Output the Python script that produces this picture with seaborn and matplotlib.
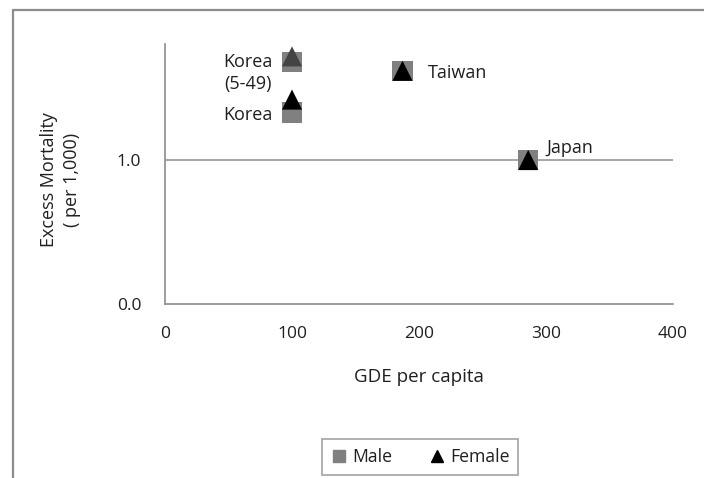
import matplotlib
matplotlib.use("Agg")
import matplotlib.pyplot as plt
from matplotlib.lines import Line2D
import seaborn as sns
import pandas as pd

# ---- data ----
countries = ["Korea (5-49)", "Korea", "Taiwan", "Japan"]
labels = ["Korea\n(5-49)", "Korea", "Taiwan", "Japan"]
gde = [100, 100, 187, 286]
male = [1.68, 1.33, 1.62, 1.00]
female = [1.72, 1.42, 1.62, 1.00]
female_colors = ["#444444", "#000000", "#000000", "#000000"]
x_ticks = [0, 100, 200, 300, 400]
y_ticks = [0.0, 1.0]
y_tick_labels = ["0.0", "1.0"]

df = pd.DataFrame({
    "country": countries * 2,
    "gde": gde * 2,
    "excess": male + female,
    "sex": ["Male"] * len(countries) + ["Female"] * len(countries),
})

sns.set_theme(style="white")
plt.rcParams["font.family"] = ["Open Sans", "DejaVu Sans"]
TXT = "#1f1f1f"

fig = plt.figure(figsize=(7.04, 4.78), dpi=100)
ax = fig.add_axes([165 / 704, 1 - 304 / 478, (673 - 165) / 704, (304 - 44) / 478])

m = df[df.sex == "Male"]
f = df[df.sex == "Female"]
sns.scatterplot(data=m, x="gde", y="excess", marker="s", s=210, color="#808080",
                edgecolor="none", linewidth=0, ax=ax, legend=False, zorder=3)
for i, row in enumerate(f.itertuples()):
    sns.scatterplot(x=[row.gde], y=[row.excess], marker="^", s=210,
                    color=female_colors[i], edgecolor="none", linewidth=0,
                    ax=ax, legend=False, zorder=4)

ax.set_xlim(0, 400)
ax.set_ylim(0, 1.806)
ax.set_xticks(x_ticks)
ax.set_yticks(y_ticks)
ax.set_yticklabels(y_tick_labels)
ax.axhline(1.0, color="#a6a6a6", lw=1.4, zorder=1)

for s in ["top", "right"]:
    ax.spines[s].set_visible(False)
for s in ["left", "bottom"]:
    ax.spines[s].set_color("#8c8c8c")
    ax.spines[s].set_linewidth(1.2)

ax.tick_params(axis="x", direction="in", length=5, width=1, color="#8c8c8c",
               pad=16, labelsize=12.5, labelcolor=TXT)
ax.tick_params(axis="y", length=0, pad=17, labelsize=12.5, labelcolor=TXT)

ax.set_xlabel("GDE per capita", fontsize=13.5, color=TXT)
ax.xaxis.set_label_coords(0.5, (304 - 368) / 260)
ax.set_ylabel("Excess Mortality\n( per 1,000)", fontsize=13, color=TXT,
              linespacing=1.35)
ax.yaxis.set_label_coords((81 - 165) / 508, (304 - 180) / 260)

# labels
offsets = [(-14, -8, "right"), (-14, -1.5, "right"), (18, -1.5, "left"), (13, 8.5, "left")]
for i, lab in enumerate(labels):
    dx, dy, ha = offsets[i]
    ax.annotate(lab, xy=(gde[i], male[i]), xytext=(dx, dy), textcoords="offset points",
                ha=ha, va="center", fontsize=13, color=TXT,
                multialignment="center", linespacing=1.3)

handles = [
    Line2D([], [], marker="s", color="#808080", linestyle="none", markersize=9),
    Line2D([], [], marker="^", color="#000000", linestyle="none", markersize=9),
]
leg = fig.legend(handles, ["Male", "Female"], loc="center",
                 bbox_to_anchor=(420 / 704, 1 - 457 / 478), ncol=2,
                 frameon=True, fancybox=False, fontsize=12.7, handletextpad=0.25,
                 columnspacing=2.0, handlelength=1.0, borderpad=0.5,
                 borderaxespad=0)
leg.get_frame().set_edgecolor("#8c8c8c")
leg.get_frame().set_linewidth(1.2)
for t in leg.get_texts():
    t.set_color(TXT)

# outer frame (cropped at right and bottom): only top and left edges visible
fx = 13 / 704
fy = 1 - 10 / 478
fig.add_artist(Line2D([fx, 1.0], [fy, fy], transform=fig.transFigure,
                      color="#8c8c8c", linewidth=1.6))
fig.add_artist(Line2D([fx, fx], [0.0, fy], transform=fig.transFigure,
                      color="#8c8c8c", linewidth=1.6))

fig.savefig("out.png", dpi=100)
